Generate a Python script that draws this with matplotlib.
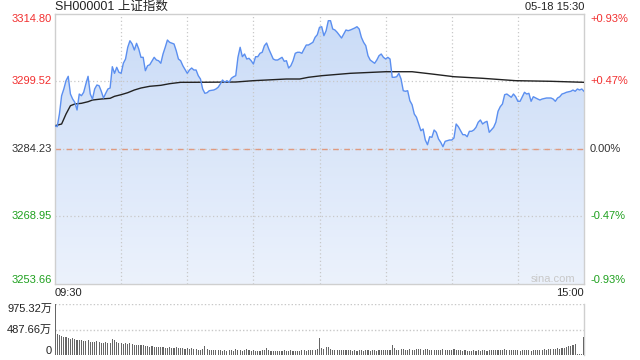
import numpy as np
import matplotlib
matplotlib.use("Agg")
import matplotlib.pyplot as plt
from matplotlib.patches import Polygon
from matplotlib.colors import LinearSegmentedColormap

plt.rcParams['font.family'] = ['Liberation Sans', 'Noto Sans CJK SC', 'DejaVu Sans']

# ---------------- data ----------------
title = "SH000001 上证指数"
stamp = "05-18 15:30"
time_labels = ["09:30", "15:00"]

price_levels = [3314.80, 3299.52, 3284.23, 3268.95, 3253.66]
pct_labels = ["+0.93%", "+0.47%", "0.00%", "-0.47%", "-0.93%"]
vol_levels = [975.32, 487.66, 0]
vol_labels = ["975.32万", "487.66万", "0"]

price_minutes = [0, 1, 2, 3, 4, 5, 6, 7, 8, 9, 10, 11, 12, 13, 14, 15, 16, 17, 18, 19,
                 20, 21, 22, 23, 24, 25, 26, 27, 28, 29, 30, 31, 32, 33, 34, 35, 36, 37, 38, 39,
                 40, 41, 42, 43, 45, 46, 47, 48, 49, 50, 51, 52, 54, 55, 56, 57, 58, 60, 61, 62,
                 63, 64, 65, 66, 67, 68, 69, 70, 72, 73, 74, 75, 76, 77, 78, 79, 80, 81, 82, 83,
                 84, 85, 86, 87, 88, 89, 90, 91, 92, 93, 94, 95, 96, 97, 98, 99, 100, 101, 103, 104,
                 105, 106, 107, 108, 109, 110, 111, 112, 113, 114, 115, 117, 118, 119, 120, 121, 122, 123, 124, 125,
                 126, 127, 128, 130, 131, 132, 133, 134, 135, 136, 137, 138, 139, 140, 141, 142, 143, 145, 146, 147,
                 148, 149, 150, 151, 152, 153, 154, 155, 156, 157, 158, 159, 160, 161, 162, 163, 164, 165, 166, 167,
                 168, 169, 170, 171, 172, 173, 174, 175, 176, 177, 179, 180, 181, 182, 183, 184, 185, 186, 187, 188,
                 189, 190, 191, 192, 193, 194, 195, 196, 197, 199, 200, 201, 202, 203, 204, 205, 206, 207, 208, 209,
                 210, 211, 212, 213, 214, 215, 216, 217, 219, 220, 221, 223, 225, 226, 227, 228, 229, 230, 231, 232,
                 234, 235, 236, 237, 238, 239, 240]
price_values = [3289.51, 3289.28, 3292.15, 3296.30, 3297.82, 3299.70, 3300.69, 3296.68, 3295.55, 3294.80,
                3293.06, 3296.68, 3296.30, 3297.07, 3298.95, 3300.69, 3296.68, 3295.55, 3297.82, 3298.72,
                3298.56, 3297.30, 3295.78, 3296.84, 3297.82, 3298.04, 3302.87, 3301.37, 3302.73, 3301.60,
                3301.37, 3303.64, 3304.61, 3307.26, 3308.75, 3308.01, 3306.65, 3308.16, 3306.87, 3304.99,
                3304.99, 3301.96, 3303.09, 3303.32, 3304.99, 3304.38, 3304.22, 3303.64, 3305.74, 3307.26,
                3308.91, 3308.39, 3308.01, 3306.49, 3304.61, 3304.22, 3303.09, 3301.37, 3302.12, 3302.57,
                3302.12, 3302.12, 3300.83, 3300.08, 3297.82, 3296.84, 3296.98, 3297.43, 3297.59, 3297.82,
                3298.20, 3298.95, 3299.85, 3299.33, 3299.70, 3299.33, 3300.24, 3300.60, 3300.83, 3304.99,
                3307.26, 3305.13, 3305.74, 3304.61, 3304.77, 3304.22, 3303.48, 3305.13, 3305.13, 3305.90,
                3306.13, 3307.62, 3308.23, 3306.87, 3305.74, 3304.61, 3304.38, 3304.38, 3304.99, 3304.09,
                3304.22, 3302.57, 3303.09, 3304.22, 3305.90, 3306.13, 3306.13, 3305.90, 3306.87, 3307.78,
                3307.78, 3308.39, 3309.52, 3310.11, 3311.79, 3311.92, 3309.89, 3311.02, 3313.28, 3313.28,
                3311.40, 3311.18, 3310.66, 3309.36, 3310.27, 3311.18, 3311.02, 3311.18, 3311.40, 3311.63,
                3311.92, 3311.40, 3309.52, 3308.39, 3307.62, 3305.36, 3304.38, 3303.64, 3304.38, 3305.36,
                3305.74, 3304.99, 3304.61, 3304.99, 3304.61, 3300.47, 3300.47, 3300.60, 3301.37, 3300.08,
                3297.43, 3297.30, 3297.43, 3295.17, 3294.26, 3292.15, 3291.41, 3289.89, 3288.37, 3288.76,
                3286.27, 3285.20, 3287.01, 3286.88, 3288.53, 3288.01, 3286.49, 3285.75, 3284.75, 3285.97,
                3286.27, 3286.27, 3286.72, 3289.89, 3289.28, 3288.37, 3287.47, 3287.47, 3287.01, 3288.24,
                3288.24, 3288.53, 3289.14, 3290.28, 3290.80, 3289.89, 3290.28, 3290.50, 3288.01, 3289.14,
                3290.28, 3292.77, 3293.81, 3294.42, 3296.53, 3296.68, 3296.30, 3295.94, 3296.68, 3296.07,
                3295.03, 3295.03, 3296.07, 3297.07, 3296.68, 3296.84, 3295.03, 3296.07, 3295.55, 3295.32,
                3295.55, 3295.78, 3295.78, 3295.55, 3295.03, 3295.78, 3296.07, 3296.68, 3296.84, 3297.07,
                3297.30, 3297.59, 3297.30, 3297.82, 3297.59, 3297.82, 3297.30]

avg_minutes = [0, 3, 5, 7, 9, 12, 15, 17, 21, 25, 27, 30, 33, 36, 39, 43, 48, 52, 57, 61,
               69, 82, 90, 105, 111, 115, 121, 134, 150, 162, 171, 181, 194, 209, 225, 240]
avg_values = [3289.50, 3289.89, 3292.15, 3294.03, 3294.42, 3294.58, 3294.94, 3295.32, 3295.55, 3295.71,
              3296.16, 3296.53, 3296.98, 3297.59, 3298.04, 3298.43, 3298.65, 3299.02, 3299.33, 3299.33,
              3299.35, 3299.40, 3299.70, 3300.08, 3300.08, 3300.47, 3300.83, 3301.37, 3301.73, 3301.73,
              3301.21, 3300.60, 3300.24, 3299.70, 3299.56, 3299.33]

volume = [975.32, 400, 380, 360, 340, 335, 320, 310, 330, 300, 295,
          280, 285, 270, 260, 280, 255, 250, 240, 260, 245,
          235, 225, 240, 230, 225, 300, 280, 240, 225, 230,
          215, 225, 210, 220, 205, 200, 190, 195, 185, 190,
          170, 165, 160, 165, 150, 160, 150, 145, 150, 140,
          135, 145, 140, 130, 145, 130, 135, 125, 120, 130,
          115, 125, 120, 110, 105, 100, 110, 170, 110, 100,
          95, 90, 95, 90, 100, 85, 90, 85, 90, 95,
          85, 120, 100, 95, 85, 90, 110, 95, 85, 90,
          85, 80, 85, 90, 100, 130, 95, 85, 80, 85,
          80, 85, 80, 90, 85, 80, 95, 85, 80, 85,
          85, 90, 95, 85, 90, 100, 95, 105, 110, 320,
          140, 120, 150, 145, 120, 100, 95, 100, 95, 100,
          90, 95, 90, 95, 85, 90, 85, 90, 95, 85,
          90, 95, 85, 90, 95, 85, 100, 90, 95, 100,
          95, 100, 190, 130, 100, 95, 120, 110, 100, 105,
          110, 100, 105, 110, 115, 120, 105, 110, 120, 100,
          105, 100, 95, 100, 105, 110, 95, 100, 90, 95,
          110, 105, 95, 90, 85, 90, 85, 80, 85, 90,
          85, 90, 85, 95, 90, 85, 100, 90, 95, 100,
          105, 95, 100, 110, 100, 95, 90, 95, 100, 90,
          85, 90, 95, 100, 90, 85, 95, 100, 105, 95,
          100, 110, 105, 115, 110, 120, 115, 125, 120, 130,
          140, 150, 165, 180, 200, 210, 15, 10, 10, 350]

# ---------------- styling ----------------
RED = '#f23030'
GREEN = '#1ea01e'
DARK = '#333333'
GRID = '#c8c8c8'
BORDER = '#cfcfcf'
LINE = '#5b8ff0'

W, H = 640, 360
fig = plt.figure(figsize=(W / 100, H / 100), dpi=100)
fig.patch.set_facecolor('white')

L, R = 55 / W, 584 / W
ax = fig.add_axes([L, 1 - 284 / H, R - L, 270 / H])
axv = fig.add_axes([L, 1 - 355 / H, R - L, 51 / H])

ymin, ymax = price_levels[-1], price_levels[0]
ax.set_xlim(0, 240)
ax.set_ylim(ymin, ymax)
ax.set_xticks([])
ax.set_yticks([])
for s in ax.spines.values():
    s.set_color(BORDER)
    s.set_linewidth(1.0)

# gradient fill under price line
verts = [(price_minutes[0], ymin)] + list(zip(price_minutes, price_values)) + [(price_minutes[-1], ymin)]
poly = Polygon(verts, closed=True, facecolor='none', edgecolor='none')
ax.add_patch(poly)
grad = np.linspace(0, 1, 256).reshape(-1, 1)
cmap = LinearSegmentedColormap.from_list('g', ['#ecf2fc', '#c9dbf7'])
im = ax.imshow(grad, extent=[0, 240, ymin, ymax], origin='lower', aspect='auto',
               cmap=cmap, zorder=1, interpolation='bilinear')
im.set_clip_path(poly)

# grid lines
for m in range(30, 240, 30):
    ax.axvline(m, color=GRID, lw=0.9, ls=(0, (1, 2)), zorder=2)
for lv in (price_levels[1], price_levels[3]):
    ax.axhline(lv, color=GRID, lw=0.9, ls=(0, (1, 2)), zorder=2)
ax.axhline(price_levels[2], color=GRID, lw=0.9, ls=(0, (1, 2)), zorder=2)
ax.axhline(price_levels[2], color='#e09a80', lw=1.0, ls=(0, (4, 4)), zorder=2)

ax.plot(price_minutes, price_values, color=LINE, lw=1.0, zorder=4)
ax.plot(avg_minutes, avg_values, color='#222222', lw=1.0, zorder=3)

# price labels
lcols = [RED, RED, DARK, GREEN, GREEN]
offs = [-1.2, 0, 0, 0, 1.0]
for lv, lab, c, o in zip(price_levels, pct_labels, lcols, offs):
    ax.text(-3 / ((R - L) * W), lv + o, f"{lv:.2f}", transform=ax.get_yaxis_transform(),
            ha='right', va='center', fontsize=8, color=c)
    ax.text(1 + 6 / ((R - L) * W), lv + o, lab, transform=ax.get_yaxis_transform(),
            ha='left', va='center', fontsize=8, color=c)

ax.text(0.941, 3254.9, "sina.com", transform=ax.get_yaxis_transform(),
        ha='center', va='center', fontsize=8, color='#c8c8c8')

fig.text(L, 1 - 7 / H, title, ha='left', va='center', fontsize=9, color='#222222')
fig.text(R, 1 - 7 / H, stamp, ha='right', va='center', fontsize=8, color='#222222')
fig.text(L, 1 - 293 / H, time_labels[0], ha='left', va='center', fontsize=8, color='#222222')
fig.text(R, 1 - 293 / H, time_labels[1], ha='right', va='center', fontsize=8, color='#222222')

# volume panel
vx = np.arange(len(volume))
axv.bar(vx, volume, width=0.5, color='#666666', zorder=3)
axv.set_xlim(0, 240)
axv.set_ylim(0, vol_levels[0])
axv.set_xticks([])
axv.set_yticks([])
for k in ('left', 'top', 'bottom'):
    axv.spines[k].set_visible(False)
axv.spines['right'].set_color(BORDER)
axv.spines['right'].set_linewidth(1.0)
for lv in vol_levels[:2]:
    axv.axhline(lv, color=GRID, lw=1.0, ls=(0, (1, 1.5)), zorder=1)
vofs = [-95, 0, 70]
for lv, lab, o in zip(vol_levels, vol_labels, vofs):
    axv.text(-3 / ((R - L) * W), lv + o, lab, transform=axv.get_yaxis_transform(),
             ha='right', va='center', fontsize=8, color='#222222')

fig.savefig('out.png', dpi=100, facecolor='white')
